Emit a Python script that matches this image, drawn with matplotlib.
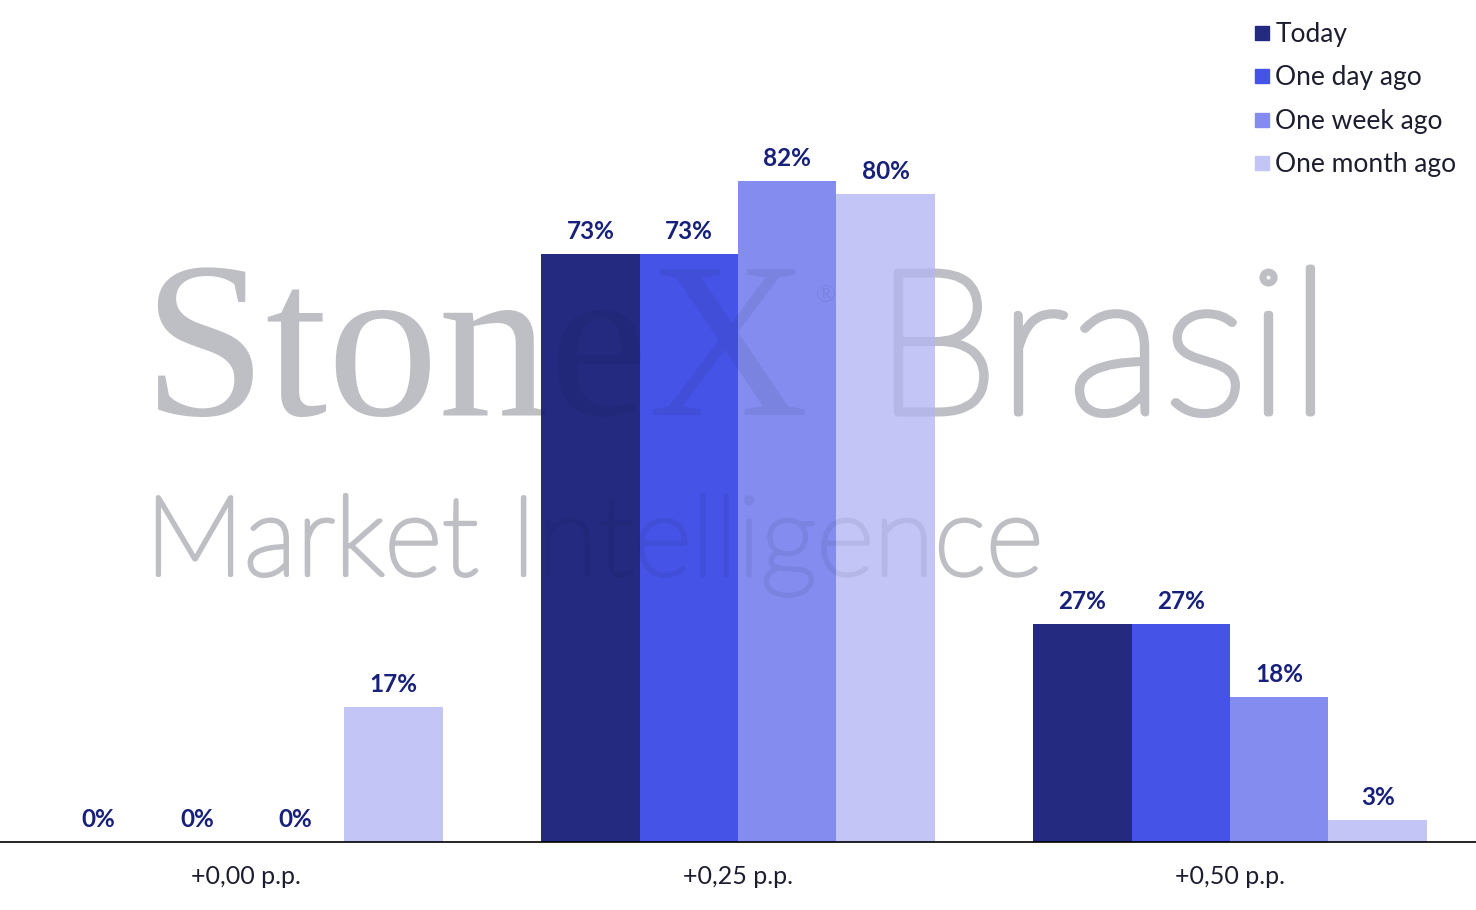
import matplotlib
matplotlib.use("Agg")
import matplotlib.pyplot as plt
from matplotlib.lines import Line2D
import matplotlib.patheffects as pe
import matplotlib.colors as mcolors
import numpy as np

categories = ["+0,00 p.p.", "+0,25 p.p.", "+0,50 p.p."]
series_names = ["Today", "One day ago", "One week ago", "One month ago"]
today = [0, 73, 27]
one_day_ago = [0, 73, 27]
one_week_ago = [0, 82, 18]
one_month_ago = [16.8, 80.4, 2.7]
series_values = [today, one_day_ago, one_week_ago, one_month_ago]
colors = ["#242a80", "#4553e6", "#848cef", "#c2c5f5"]

label_color = "#17207a"
text_color = "#1c1d2e"

fig = plt.figure(figsize=(14.76, 9.10), dpi=100)
fig.patch.set_facecolor("white")
ax = fig.add_axes([0, 68 / 910, 1, 842 / 910])
ax.patch.set_visible(False)

x = np.arange(len(categories))
width = 0.2
for i, (name, vals, c) in enumerate(zip(series_names, series_values, colors)):
    offs = (i - 1.5) * width
    bars = ax.bar(x + offs, vals, width, color=c, label=name, zorder=2)
    for b, v in zip(bars, vals):
        ax.annotate(f"{v:.0f}%", (b.get_x() + b.get_width() / 2, b.get_height()),
                    xytext=(0, 8), textcoords="offset points", ha="center", va="bottom",
                    fontsize=17.5, fontweight="bold", color=label_color, family="Lato", zorder=5)

ax.set_xlim(-0.5, 2.5)
ax.set_ylim(0, 104.5)
ax.set_xticks(x)
ax.set_xticklabels(categories, fontsize=18, color=text_color, family="Lato")
ax.tick_params(axis="x", length=0, pad=16.5)
ax.set_yticks([])
for s in ["top", "left", "right"]:
    ax.spines[s].set_visible(False)
ax.spines["bottom"].set_color("black")
ax.spines["bottom"].set_linewidth(1.2)
ax.spines["bottom"].set_zorder(6)


# watermark: a solid grey layer under the bars and a faint dark layer above them
def watermark(color, alpha, zorder):
    rgba = mcolors.to_rgba(color, alpha)
    kw = dict(zorder=zorder, ha="left", va="baseline")
    fig.text(142 / 1476, 1 - 415 / 910, "StoneX", fontsize=160, family="Liberation Serif",
             color=rgba, **kw)
    fig.text(816 / 1476, 1 - 302 / 910, "®", fontsize=19, family="Liberation Serif",
             color=rgba, **kw)
    clear = (0, 0, 0, 0)
    fig.text(874 / 1476, 1 - 413 / 910, "Brasil", fontsize=145, fontweight="light", family="Lato",
             color=clear,
             path_effects=[pe.Stroke(linewidth=5, foreground=rgba, joinstyle="round",
                                     capstyle="round")], **kw)
    fig.text(145 / 1476, 1 - 575 / 910, "Market Intelligence", fontsize=80, fontweight="light",
             family="Lato", color=clear,
             path_effects=[pe.Stroke(linewidth=3, foreground=rgba, joinstyle="round",
                                     capstyle="round")], **kw)


watermark("#cccdd1", 1.0, -1)
watermark("#0a0f28", 0.07, 10)

handles = [Line2D([0], [0], marker="s", linestyle="none", markersize=9.5, markerfacecolor=c,
                  markeredgecolor=c) for c in colors]
leg = fig.legend(handles, series_names, loc="upper left", bbox_to_anchor=(1249 / 1476, 1 - 22 / 910),
                 frameon=False, prop={"family": "Lato", "size": 19}, labelspacing=0.70,
                 handletextpad=0.0, handlelength=1.0, borderaxespad=0, borderpad=0)
for t in leg.get_texts():
    t.set_color(text_color)

fig.savefig("out.png", dpi=100, facecolor="white")
